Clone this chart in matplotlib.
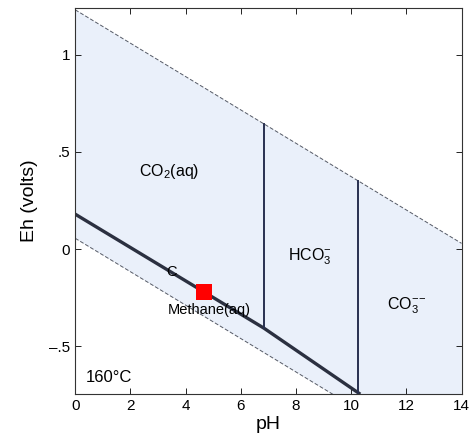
import matplotlib
matplotlib.use("Agg")
import matplotlib.pyplot as plt
import numpy as np

# water stability limits (Eh at pH 0 and pH 14)
water_ph = [0.0, 14.0]
water_upper = [1.23, 0.03]
water_lower = [0.056, -1.146]

# C / methane boundary: CO2(aq) -> HCO3- -> bottom
carbon_ph = [0.0, 6.83, 10.33]
carbon_eh = [0.18, -0.405, -0.745]

# vertical predominance boundaries
vert_ph = [6.83, 10.23]
vert_bottom = [-0.405, -0.745]
vert_top = [0.643, 0.351]

# sample point
point_ph = [4.68]
point_eh = [-0.22]

labels = [
    ("CO$_2$(aq)", 3.4, 0.40, 11.5),
    ("HCO$_3^{-}$", 8.5, -0.04, 11.5),
    ("CO$_3^{-\\!-}$", 12.0, -0.29, 11.5),
    ("C", 3.5, -0.115, 10.5),
    ("Methane(aq)", 4.85, -0.31, 10.5),
]

plt.rcParams["mathtext.fontset"] = "custom"
plt.rcParams["mathtext.rm"] = "Liberation Sans"
plt.rcParams["mathtext.it"] = "Liberation Sans:italic"
plt.rcParams["mathtext.default"] = "rm"

figure = plt.figure(figsize=(4.7, 4.37), dpi=100)
axis = figure.add_axes([0.16, 0.098, 0.822, 0.884])

line_color = "#2b3040"
fill_color = "#eaf0fa"

axis.fill_between(water_ph, water_lower, water_upper, color=fill_color, linewidth=0)
axis.plot(water_ph, water_upper, color="#555a66", linestyle=(0, (4, 2)), linewidth=0.7)
axis.plot(water_ph, water_lower, color="#555a66", linestyle=(0, (4, 2)), linewidth=0.7)

axis.plot(carbon_ph, carbon_eh, color=line_color, linewidth=2.4, solid_capstyle="butt")
for x, y0, y1 in zip(vert_ph, vert_bottom, vert_top):
    axis.plot([x, x], [y0, y1], color="#283050", linewidth=1.4)

axis.scatter(point_ph, point_eh, marker="s", s=140, color="#ff0000", zorder=5, linewidths=0)

for text, x, y, size in labels:
    axis.text(x, y, text, ha="center", va="center", fontsize=size, family="Liberation Sans")
axis.text(0.4, -0.66, "160°C", ha="left", va="center", fontsize=12, family="Liberation Sans")

axis.set_xlim(0, 14)
axis.set_ylim(-0.745, 1.24)
axis.set_xticks(range(0, 15, 2))
axis.set_yticks([-0.5, 0, 0.5, 1])
axis.set_yticklabels(["\u2013.5", "0", ".5", "1"])
axis.tick_params(direction="in", top=True, right=True, labelsize=11, length=4, width=0.6)
for label in axis.get_xticklabels() + axis.get_yticklabels():
    label.set_family("Liberation Sans")
for spine in axis.spines.values():
    spine.set_linewidth(0.8)
    spine.set_color("#333333")

axis.set_xlabel("pH", fontsize=14, family="Liberation Sans", labelpad=2)
axis.set_ylabel("Eh (volts)", fontsize=14, family="Liberation Sans", labelpad=8)

figure.savefig("out.png", dpi=100)
plt.close(figure)
